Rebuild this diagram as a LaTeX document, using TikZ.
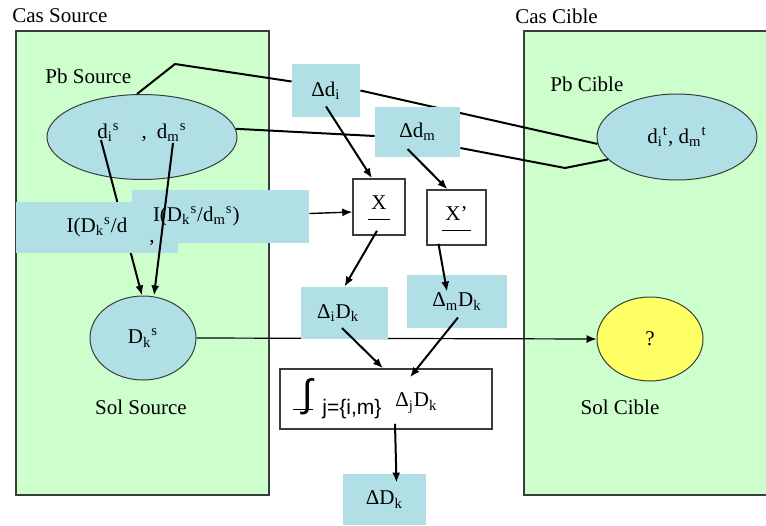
\documentclass[tikz,border=0pt]{standalone}
\usepackage{fontspec}
\setmainfont{Liberation Serif}
\setsansfont{Liberation Sans}
\usepackage{xcolor}
\usepackage{tikz}
\usetikzlibrary{arrows.meta, shapes.geometric}
\definecolor{casgreen}{RGB}{204,255,204}
\definecolor{pbblue}{RGB}{176,224,230}
\definecolor{solyellow}{RGB}{255,255,102}
\definecolor{edgegray}{RGB}{60,60,60}
\newcommand{\intfont}{\fontsize{19}{19}\selectfont}

\begin{document}
\begin{tikzpicture}[x=0.5pt, y=-0.5pt, font=\fontsize{10.5}{12}\selectfont,
  caption/.style={anchor=west, inner sep=0pt},
  casbox/.style={fill=casgreen, draw=edgegray, line width=0.75pt},
  bluebox/.style={rectangle, fill=pbblue, inner sep=0pt},
  pbellipse/.style={ellipse, fill=pbblue, draw=edgegray, line width=0.5pt, inner sep=0pt},
  whitebox/.style={rectangle, fill=white, draw=edgegray, line width=0.75pt, inner sep=0pt},
  link/.style={line width=1pt},
  flow/.style={line width=1pt, -{Latex[length=5pt, width=4pt]}}]
\useasboundingbox (0,0) rectangle (766,525);

% Green case boxes
\draw[casbox] (16,31) rectangle (269,495);
\fill[casgreen] (524,31) rectangle (766,495);
\draw[edgegray, line width=0.75pt] (766,31) -- (524,31) -- (524,495) -- (766,495);

% Titles
\node[caption] (cassrc) at (12,16) {Cas Source};
\node[caption] (cascib) at (515,16) {Cas Cible};
\node[caption] (pbsrc) at (45,76) {Pb Source};
\node[caption] (pbcib) at (550,84) {Pb Cible};
\node (solsrc) at (141,407) {Sol Source};
\node (solcib) at (620,407) {Sol Cible};

% Problems and solutions
\node[pbellipse, minimum width=95pt, minimum height=42.5pt] (srcpb) at (142,137)
  {\raisebox{6pt}{d\textsubscript{i}\textsuperscript{s}\hspace{11pt},\hspace{5pt}d\textsubscript{m}\textsuperscript{s}}};
\node[pbellipse, minimum width=80pt, minimum height=43pt] (tgtpb) at (677,137)
  {d\textsubscript{i}\textsuperscript{t}, d\textsubscript{m}\textsuperscript{t}};
\node[pbellipse, minimum width=53pt, minimum height=42pt] (dks) at (143,338) {D\textsubscript{k}\textsuperscript{s}};
\node[pbellipse, fill=solyellow, minimum width=53pt, minimum height=42pt] (q) at (650,339) {?};
\node[bluebox, minimum width=34pt, minimum height=26.5pt] (ddi) at (326,90.5) {Δd\textsubscript{i}};

% Links behind the boxes
\coordinate (kink1) at (175,64);
\draw[link] ([xshift=-2.5pt]srcpb.north) -- (kink1) -- ([yshift=4.5pt]ddi.west);
\draw[link] (ddi.east) -- (tgtpb.185);
\draw[flow] ([xshift=-20.5pt, yshift=-1.5pt]srcpb.center) -- ([xshift=-0.5pt]dks.north);
\draw[line width=0.6pt, -{Latex[length=5pt, width=4pt]}] (dks.east) -- (q.west);

% Boxes
\node[bluebox, minimum width=42.5pt, minimum height=25pt] (ddm) at (417.5,132) {Δd\textsubscript{m}};
\node[bluebox, minimum width=81pt, minimum height=25.5pt] (idi) at (97,227.5) {I(D\textsubscript{k}\textsuperscript{s}/d};
\node[bluebox, align=left, text width=67.5pt, inner xsep=10.5pt, minimum height=26.5pt] (idm) at (220.5,216.5)
  {I(D\textsubscript{k}\textsuperscript{s}/d\textsubscript{m}\textsuperscript{s})};
\node[inner sep=0pt] (icomma) at (152,243) {,};
\node[whitebox, minimum width=26pt, minimum height=28pt] (xbox) at (379,207) {\underline{\strut\,X\,}};
\node[whitebox, minimum width=29.5pt, minimum height=27.5pt] (xpbox) at (456.5,217.5) {\underline{\strut\,X’\,}};
\node[bluebox, align=left, text width=27.5pt, inner xsep=8pt, minimum height=26pt] (dik) at (344.5,313)
  {Δ\textsubscript{i}D\textsubscript{k}};
\node[bluebox, minimum width=50pt, minimum height=26.5pt] (dmk) at (457,301.5) {Δ\textsubscript{m}D\textsubscript{k}};
\node[whitebox, align=left, text width=93pt, inner xsep=6.5pt, minimum height=30pt] (intbox) at (386,399)
  {\rule[-1.5pt]{10pt}{0.6pt}\hspace{-5.5pt}{\intfont\sffamily\itshape ∫}\hspace{5pt}\raisebox{-4pt}{\sffamily j=\{i,m\}}\hspace{7pt}Δ\textsubscript{j}D\textsubscript{k}};
\node[bluebox, minimum width=41.5pt, minimum height=25.5pt] (dk) at (384.5,499.5) {ΔD\textsubscript{k}};

% Links and arrows
\draw[link] (srcpb.5) -- ([yshift=-2pt]ddm.west);
\coordinate (kink2) at (565,168);
\draw[link] ([yshift=-8pt]ddm.east) -- (kink2) -- (tgtpb.198);
\draw[flow] ([xshift=15.5pt, yshift=-3pt]srcpb.center) -- ([xshift=5.5pt]dks.north);
\draw[flow] ([yshift=-8pt]ddi.center) -- ([xshift=-3.5pt]xbox.north);
\draw[flow] ([xshift=-5pt, yshift=-8.5pt]ddm.center) -- ([xshift=-4.5pt]xpbox.north);
\draw[flow, line width=0.7pt] ([yshift=1.5pt]idm.east) -- ([yshift=-2.5pt]xbox.west);
\draw[flow] ([xshift=-1pt, yshift=2.5pt]xbox.south) -- (dik.north);
\draw[flow] ([xshift=-9pt, yshift=1pt]xpbox.south) -- ([xshift=-5pt, yshift=-8.5pt]dmk.north);
\draw[flow] ([xshift=-1.25pt, yshift=-7.5pt]dik.center) -- ([xshift=-1.5pt]intbox.north);
\draw[flow] ([xshift=0.5pt, yshift=-8pt]dmk.center) -- ([xshift=12pt, yshift=-4.5pt]intbox.north);
\draw[flow] ([xshift=4.5pt, yshift=3pt]intbox.south) -- ([xshift=6pt, yshift=-4.5pt]dk.north);
\end{tikzpicture}
\end{document}
